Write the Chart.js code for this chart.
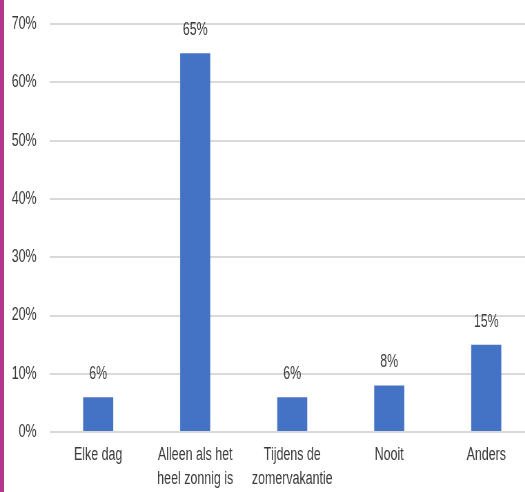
<!DOCTYPE html>
<html>
<head>
<meta charset="utf-8">
<script src="https://cdn.jsdelivr.net/npm/chart.js@4"></script>
<style>
  html, body { margin: 0; padding: 0; background: #fff; }
  #wrap { position: relative; width: 525px; height: 492px; overflow: hidden; }
  #edge { position: absolute; left: 0; top: 0; width: 4px; height: 492px; background: #b4378e; }
  /* the source image is horizontally squeezed: draw wide, show narrow */
  #squeeze { position: absolute; left: 0; top: 0; width: 775px; height: 502px;
             transform: scaleX(0.69); transform-origin: 0 0; }
</style>
</head>
<body>
<div id="wrap">
  <div id="squeeze"><canvas id="chart" width="775" height="502"></canvas></div>
  <div id="edge"></div>
</div>
<script>
// categories and percentages
var categories = [
  'Elke dag',
  ['Alleen als het', 'heel zonnig is'],
  ['Tijdens de', 'zomervakantie'],
  'Nooit',
  'Anders'
];
var percentages = [6, 65, 6, 8, 15];
var yTicks = [0, 10, 20, 30, 40, 50, 60, 70];

var fontFamily = '"Liberation Sans", Arial, sans-serif';
var textColor = '#3a3a3a';

// draws "65%" etc above each bar
var valueLabels = {
  id: 'valueLabels',
  afterDatasetsDraw: function(chart) {
    var c = chart.ctx;
    var meta = chart.getDatasetMeta(0);
    c.save();
    c.font = '18px ' + fontFamily;
    c.fillStyle = textColor;
    c.textAlign = 'center';
    c.textBaseline = 'middle';
    meta.data.forEach(function(bar, i) {
      c.fillText(percentages[i] + '%', bar.x, bar.y - 23);
    });
    c.restore();
  }
};

var ctx = document.getElementById('chart');
var myChart = new Chart(ctx, {
  type: 'bar',
  data: {
    labels: categories,
    datasets: [{
      data: percentages,
      backgroundColor: '#4472c4',
      borderWidth: 0,
      barPercentage: 0.31,
      categoryPercentage: 1
    }]
  },
  options: {
    responsive: false,
    animation: false,
    layout: { padding: { left: 0, top: 24, right: 0, bottom: 0 } },
    plugins: {
      legend: { display: false },
      tooltip: { enabled: false }
    },
    scales: {
      x: {
        grid: { display: false, drawTicks: false },
        border: { display: false },
        ticks: {
          color: textColor,
          font: { family: fontFamily, size: 18, lineHeight: 1.33 },
          padding: 11,
          maxRotation: 0,
          autoSkip: false
        }
      },
      y: {
        min: 0,
        max: 70,
        afterBuildTicks: function(axis) {
          axis.ticks = yTicks.map(function(v) { return { value: v }; });
        },
        afterFit: function(axis) {
          axis.width = 72;
          axis.paddingTop = 0;
          axis.paddingBottom = 0;
        },
        grid: { color: '#d9d9d9', lineWidth: 2, drawTicks: false },
        border: { display: false },
        ticks: {
          color: textColor,
          font: { family: fontFamily, size: 18 },
          padding: 19,
          callback: function(v) { return v + '%'; }
        }
      }
    }
  },
  plugins: [valueLabels]
});
</script>
</body>
</html>
